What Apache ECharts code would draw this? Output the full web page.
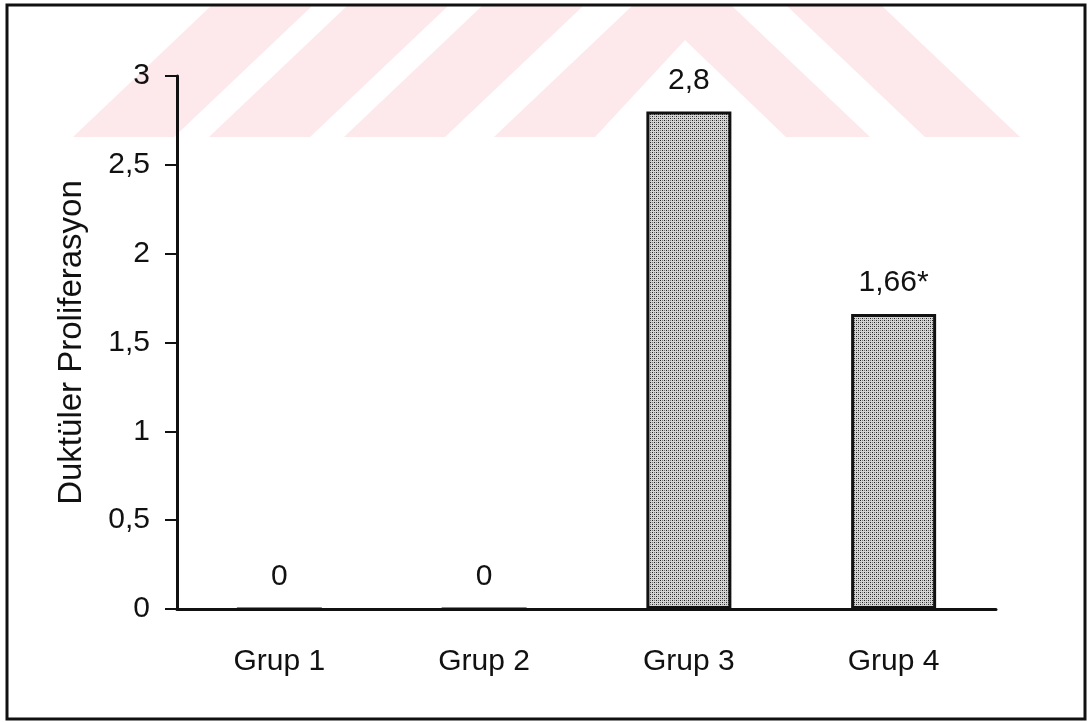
<!DOCTYPE html>
<html>
<head>
<meta charset="utf-8">
<script src="https://cdn.jsdelivr.net/npm/echarts@6/dist/echarts.min.js"></script>
<style>html,body{margin:0;padding:0;background:#fff}#c{width:1091px;height:722px}</style>
</head>
<body>
<div id="c"></div>
<script>
const categories = ['Grup 1', 'Grup 2', 'Grup 3', 'Grup 4'];
const values = [0, 0, 2.8, 1.66];
const valueLabels = ['0', '0', '2,8', '1,66*'];
const yTicks = [0, 0.5, 1, 1.5, 2, 2.5, 3];
const yAxisName = 'Duktüler Proliferasyon';

// dotted fill pattern
const pc = document.createElement('canvas');
pc.width = 4; pc.height = 4;
const px = pc.getContext('2d');
px.fillStyle = '#d4d4d4'; px.fillRect(0, 0, 4, 4);
px.fillStyle = '#222';
px.fillRect(0, 0, 1, 1); px.fillRect(2, 2, 1, 1);
px.fillStyle = '#777';
px.fillRect(2, 0, 1, 1); px.fillRect(0, 2, 1, 1);

const pink = '#fde8ec';
const wm = [];
function poly(points) {
  wm.push({ type: 'polygon', z: -10, silent: true, shape: { points }, style: { fill: pink } });
}
const yb = 137, yt = 6, dx = 138;
[[73, 174], [209, 310], [344, 445]].forEach(([a, b]) => poly([[a, yb], [b, yb], [b + dx, yt], [a + dx, yt]]));
// big lambda
poly([[494, yb], [595, yb], [685, 40], [786, yb], [870, yb], [870 - dx, yt], [494 + dx, yt]]);
// right stripe
poly([[925, yb], [1020, yb], [1020 - dx, yt], [925 - dx, yt]]);

const F = 'Liberation Sans';
const chart = echarts.init(document.getElementById('c'), null, { renderer: 'canvas' });
chart.setOption({
  animation: false,
  backgroundColor: '#fff',
  textStyle: { fontFamily: F },
  graphic: wm.concat([{
    type: 'rect', z: 100, silent: true,
    shape: { x: 7, y: 5, width: 1078, height: 714 },
    style: { fill: 'none', stroke: '#111', lineWidth: 3 }
  }]),
  grid: { left: 177, right: 95, top: 76, bottom: 113 },
  xAxis: {
    type: 'category',
    data: categories,
    axisLine: { lineStyle: { color: '#111', width: 3 } },
    axisTick: { show: false },
    axisLabel: { color: '#111', fontSize: 30, margin: 38, fontFamily: F }
  },
  yAxis: {
    type: 'value',
    min: yTicks[0], max: yTicks[yTicks.length - 1], interval: 0.5,
    name: yAxisName,
    nameLocation: 'middle',
    nameGap: 89,
    nameTextStyle: { color: '#111', fontSize: 33, fontFamily: F },
    axisLine: { show: true, lineStyle: { color: '#111', width: 3 } },
    axisTick: { show: true, length: 12, lineStyle: { color: '#111', width: 2 } },
    splitLine: { show: false },
    axisLabel: {
      color: '#111', fontSize: 30, margin: 27, fontFamily: F,
      formatter: v => String(v).replace('.', ',')
    }
  },
  series: [{
    type: 'bar',
    data: values,
    barWidth: 85,
    itemStyle: { color: { image: pc, repeat: 'repeat' }, borderColor: '#111', borderWidth: 3 },
    label: {
      show: true, position: 'top', distance: 16,
      color: '#111', fontSize: 30, fontFamily: F,
      formatter: p => valueLabels[p.dataIndex]
    }
  }]
});
</script>
</body>
</html>
